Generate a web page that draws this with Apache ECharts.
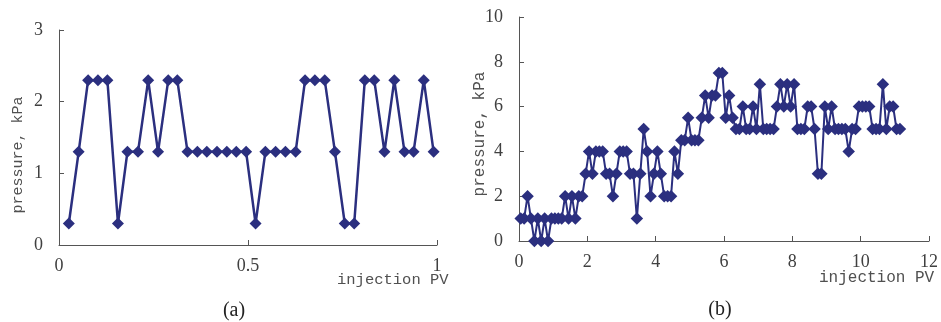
<!DOCTYPE html>
<html>
<head>
<meta charset="utf-8">
<script src="https://cdn.jsdelivr.net/npm/echarts@6/dist/echarts.min.js"></script>
<style>
html,body{margin:0;padding:0;background:#fff;}
#chart{width:941px;height:322px;}
</style>
</head>
<body>
<div id="chart"></div>
<script>
// Panel (a)
const pvA = [0.026,0.052,0.077,0.103,0.128,0.156,0.181,0.209,0.236,0.262,0.289,0.313,0.340,0.366,0.391,0.418,0.444,0.469,0.495,0.520,0.546,0.573,0.599,0.626,0.651,0.677,0.703,0.730,0.756,0.781,0.809,0.834,0.861,0.887,0.914,0.938,0.965,0.991];
const pressureA = [0.3,1.3,2.3,2.3,2.3,0.3,1.3,1.3,2.3,1.3,2.3,2.3,1.3,1.3,1.3,1.3,1.3,1.3,1.3,0.3,1.3,1.3,1.3,1.3,2.3,2.3,2.3,1.3,0.3,0.3,2.3,2.3,1.3,2.3,1.3,1.3,2.3,1.3];
// Panel (b)
const pvB = [0.05,0.15,0.25,0.35,0.45,0.55,0.65,0.75,0.85,0.95,
  1.05,1.15,1.25,1.35,1.45,1.55,1.65,1.75,1.85,1.95,
  2.05,2.15,2.25,2.35,2.45,2.55,2.65,2.75,2.85,2.95,
  3.05,3.15,3.25,3.35,3.45,3.55,3.65,3.75,3.85,3.95,
  4.05,4.15,4.25,4.35,4.45,4.55,4.65,4.75,4.85,4.95,
  5.05,5.15,5.25,5.35,5.45,5.55,5.65,5.75,5.85,5.95,
  6.05,6.15,6.25,6.35,6.45,6.55,6.65,6.75,6.85,6.95,
  7.05,7.15,7.25,7.35,7.45,7.55,7.65,7.75,7.85,7.95,
  8.05,8.15,8.25,8.35,8.45,8.55,8.65,8.75,8.85,8.95,
  9.05,9.15,9.25,9.35,9.45,9.55,9.65,9.75,9.85,9.95,
  10.05,10.15,10.25,10.35,10.45,10.55,10.65,10.75,10.85,10.95,
  11.05,11.15];
const pressureB = [1,1,2,1,0,1,0,1,0,1,
  1,1,1,2,1,2,1,2,2,3,
  4,3,4,4,4,3,3,2,3,4,
  4,4,3,3,1,3,5,4,2,3,
  4,3,2,2,2,4,3,4.5,4.5,5.5,
  4.5,4.5,4.5,5.5,6.5,5.5,6.5,6.5,7.5,7.5,
  5.5,6.5,5.5,5,5,6,5,5,6,5,
  7,5,5,5,5,6,7,6,7,6,
  7,5,5,5,6,6,5,3,3,6,
  5,6,5,5,5,5,4,5,5,6,
  6,6,6,5,5,5,7,5,6,6,
  5,5];
const ticksA_x = {min:0, max:1, interval:0.5};
const ticksA_y = {min:0, max:3, interval:1};
const ticksB_x = {min:0, max:12, interval:2};
const ticksB_y = {min:0, max:10, interval:2};

const navy = '#2b2f7f';
const axisCol = '#555555';
const labelCol = '#404040';

function xAxis(grid, t){
  return {type:'value', gridIndex:grid, min:t.min, max:t.max, interval:t.interval,
    axisLine:{show:true, onZero:false, lineStyle:{color:axisCol, width:1}},
    axisTick:{show:true, inside:true, length:5, lineStyle:{color:axisCol}},
    splitLine:{show:false},
    axisLabel:{color:labelCol, fontFamily:'Liberation Serif', fontSize:18, margin:12}};
}
function yAxis(grid, t){
  return {type:'value', gridIndex:grid, min:t.min, max:t.max, interval:t.interval,
    axisLine:{show:true, lineStyle:{color:axisCol, width:1}},
    axisTick:{show:true, inside:true, length:5, lineStyle:{color:axisCol}},
    splitLine:{show:false},
    axisLabel:{color:labelCol, fontFamily:'Liberation Serif', fontSize:18, margin:16}};
}

const chart = echarts.init(document.getElementById('chart'), null, {renderer:'canvas'});
chart.setOption({
  backgroundColor:'#ffffff',
  animation:false,
  grid:[
    {left:59, top:30, width:378, height:215},
    {left:519, top:17, width:412, height:224}
  ],
  xAxis:[xAxis(0, ticksA_x), xAxis(1, ticksB_x)],
  yAxis:[yAxis(0, ticksA_y), yAxis(1, ticksB_y)],
  series:[
    {type:'line', xAxisIndex:0, yAxisIndex:0,
     data: pvA.map((x,i)=>[x, pressureA[i]]),
     symbol:'diamond', symbolSize:12, showAllSymbol:true,
     lineStyle:{color:navy, width:2.5}, itemStyle:{color:navy}},
    {type:'line', xAxisIndex:1, yAxisIndex:1,
     data: pvB.map((x,i)=>[x, pressureB[i]]),
     symbol:'diamond', symbolSize:12.5, showAllSymbol:true,
     lineStyle:{color:navy, width:2}, itemStyle:{color:navy}}
  ],
  graphic:[
    {type:'text', x:18, y:155, rotation:Math.PI/2,
     style:{text:'pressure, kPa', font:'15px "Liberation Mono"', fill:'#505050', align:'center', verticalAlign:'middle'}},
    {type:'text', x:337, y:280,
     style:{text:'injection PV', font:'15.5px "Liberation Mono"', fill:'#505050', align:'left', verticalAlign:'middle'}},
    {type:'text', x:234, y:311,
     style:{text:'(a)', font:'20px "Liberation Serif"', fill:'#222', align:'center', verticalAlign:'middle'}},
    {type:'text', x:480, y:134, rotation:Math.PI/2,
     style:{text:'pressure, kPa', font:'16px "Liberation Mono"', fill:'#505050', align:'center', verticalAlign:'middle'}},
    {type:'text', x:819, y:278,
     style:{text:'injection PV', font:'16px "Liberation Mono"', fill:'#505050', align:'left', verticalAlign:'middle'}},
    {type:'text', x:720, y:310,
     style:{text:'(b)', font:'20px "Liberation Serif"', fill:'#222', align:'center', verticalAlign:'middle'}}
  ]
});
</script>
</body>
</html>
